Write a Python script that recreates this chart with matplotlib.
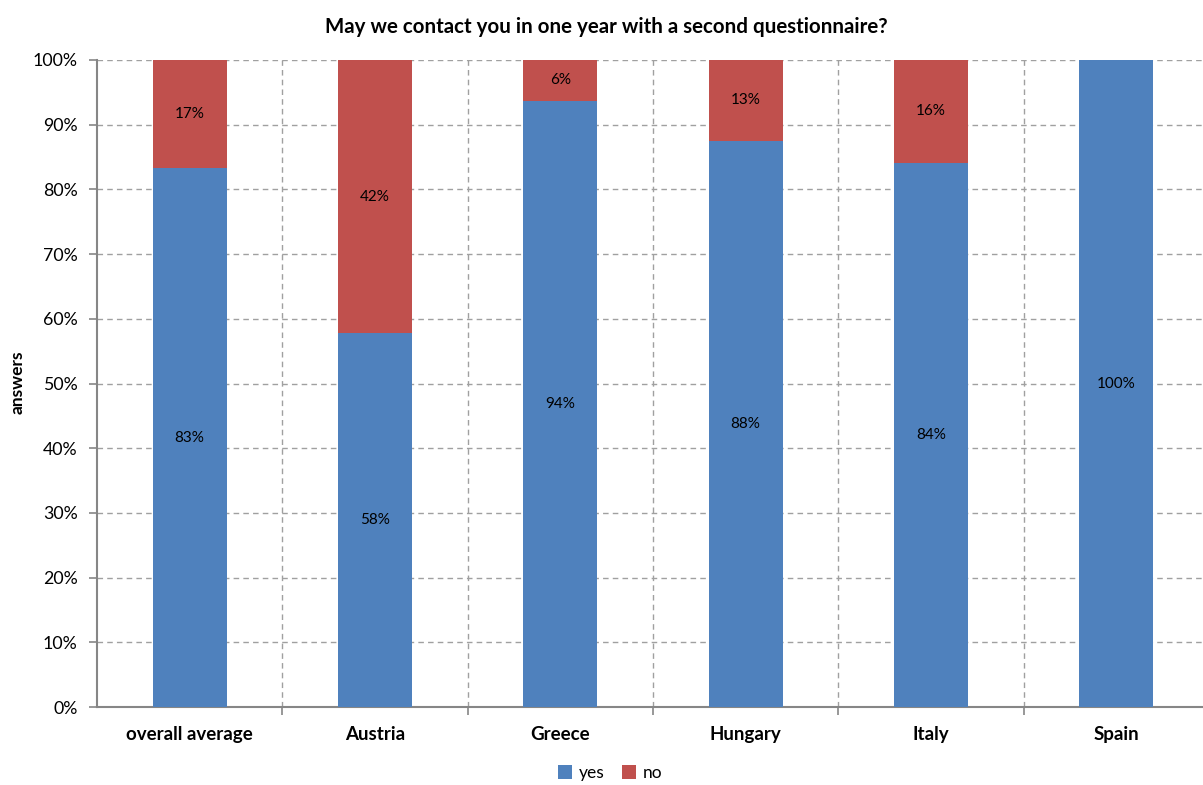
import numpy as np
import matplotlib.pyplot as plt

plt.rcParams['font.family'] = ['Lato', 'DejaVu Sans']

countries = ['overall average', 'Austria', 'Greece', 'Hungary', 'Italy', 'Spain']
yes = np.array([83.3, 57.8, 93.7, 87.5, 84.1, 100.0])
no = 100 - yes

blue = '#4F81BD'
red = '#C0504D'
grid_col = '#A0A0A0'

fig = plt.figure(figsize=(12.03, 7.85), dpi=100)
ax = fig.add_axes([97 / 1203, 1 - 707 / 785, (1209 - 97) / 1203, 647 / 785])

x = np.arange(len(countries))
b1 = ax.bar(x, yes, width=0.4, color=blue, label='yes', zorder=3)
b2 = ax.bar(x, no, width=0.4, bottom=yes, color=red, label='no', zorder=3)


def pct(v):
    return '%d%%' % int(np.floor(v + 0.5))


for i in range(len(x)):
    if yes[i] > 0:
        ax.text(x[i], yes[i] / 2, pct(yes[i]), ha='center', va='center', fontsize=11, zorder=4)
    if no[i] > 0.5:
        ax.text(x[i], yes[i] + no[i] / 2, pct(no[i]), ha='center', va='center', fontsize=11, zorder=4)

ax.set_xlim(-0.5, len(countries) - 0.5)
ax.set_ylim(0, 100)
ax.set_yticks(np.arange(0, 101, 10))
ax.set_yticklabels(['%d%%' % v for v in range(0, 101, 10)], fontsize=12.8)
ax.set_xticks(x)
ax.set_xticklabels(countries, fontsize=13.5, fontweight='bold')
ax.tick_params(axis='x', length=0, pad=14)
ax.tick_params(axis='y', length=6, color='#868686', width=1.2, pad=8)

# category boundaries drawn as dashed vertical grid lines with small ticks below the axis
ax.set_xticks(np.arange(0.5, len(countries) - 0.5, 1), minor=True)
ax.tick_params(axis='x', which='minor', length=6, color='#868686', width=1.2, direction='out')
ax.grid(axis='x', which='minor', linestyle=(0, (4, 3)), color=grid_col, linewidth=1, zorder=0)
ax.grid(axis='y', which='major', linestyle=(0, (4, 3)), color=grid_col, linewidth=1, zorder=0)

for s in ['top', 'right']:
    ax.spines[s].set_visible(False)
for s in ['left', 'bottom']:
    ax.spines[s].set_color('#868686')
    ax.spines[s].set_linewidth(1.5)

fig.text(18 / 1203, 1 - 382 / 785, 'answers', rotation=90, ha='center', va='center',
         fontsize=12.5, fontweight='bold')
fig.text(606 / 1203, 1 - 27 / 785, 'May we contact you in one year with a second questionnaire?',
         ha='center', va='center', fontsize=14.8, fontweight='bold')

fig.legend(handles=[b1, b2], labels=['yes', 'no'], loc='center', bbox_to_anchor=(610 / 1203, 1 - 773 / 785),
           ncol=2, frameon=False, fontsize=12.5, handlelength=0.8, handleheight=0.8, columnspacing=1.0,
           handletextpad=0.4)

fig.savefig('out.png', dpi=100)
